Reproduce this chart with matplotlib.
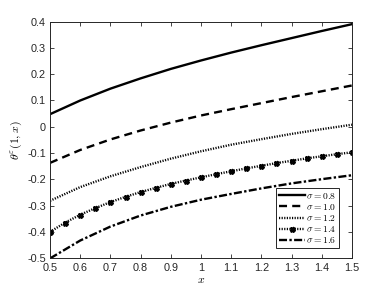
import matplotlib
matplotlib.use("Agg")
import matplotlib.pyplot as plt

plt.rcParams['mathtext.fontset'] = 'cm'
plt.rcParams['font.family'] = ['Liberation Sans', 'DejaVu Sans']

x = [0.5, 0.6, 0.7, 0.8, 0.9, 1.0, 1.1, 1.2, 1.3, 1.4, 1.5]
s08 = [0.048, 0.100, 0.145, 0.184, 0.220, 0.252, 0.282, 0.310, 0.337, 0.364, 0.390]
s10 = [-0.137, -0.088, -0.048, -0.014, 0.016, 0.043, 0.067, 0.090, 0.113, 0.135, 0.157]
s12 = [-0.281, -0.229, -0.188, -0.153, -0.121, -0.093, -0.068, -0.047, -0.027, -0.009, 0.008]
x14 = [0.5, 0.55, 0.6, 0.65, 0.7, 0.75, 0.8, 0.85, 0.9, 0.95, 1.0,
       1.05, 1.1, 1.15, 1.2, 1.25, 1.3, 1.35, 1.4, 1.45, 1.5]
s14 = [-0.399, -0.364, -0.334, -0.309, -0.286, -0.266, -0.248, -0.232, -0.217, -0.204, -0.192,
       -0.180, -0.169, -0.158, -0.148, -0.138, -0.129, -0.120, -0.112, -0.104, -0.097]
s16 = [-0.500, -0.432, -0.379, -0.337, -0.304, -0.277, -0.255, -0.234, -0.215, -0.199, -0.184]

labels = [r'$\sigma = 0.8$', r'$\sigma = 1.0$', r'$\sigma = 1.2$', r'$\sigma = 1.4$', r'$\sigma = 1.6$']
xticks = [0.5, 0.6, 0.7, 0.8, 0.9, 1.0, 1.1, 1.2, 1.3, 1.4, 1.5]
xticklabels = ['0.5', '0.6', '0.7', '0.8', '0.9', '1', '1.1', '1.2', '1.3', '1.4', '1.5']
yticks = [-0.5, -0.4, -0.3, -0.2, -0.1, 0, 0.1, 0.2, 0.3, 0.4]
yticklabels = ['-0.5', '-0.4', '-0.3', '-0.2', '-0.1', '0', '0.1', '0.2', '0.3', '0.4']

fig = plt.figure(figsize=(3.88, 2.91), dpi=100)
ax = fig.add_axes([0.129, 0.112, 0.778, 0.814])

lw = 1.7
ax.plot(x, s08, color='black', lw=lw, ls='-', label=labels[0])
ax.plot(x, s10, color='black', lw=lw, ls=(0, (3.4, 2.2)), label=labels[1])
ax.plot(x, s12, color='black', lw=lw, ls=(0, (0.5, 0.6)), label=labels[2])
ax.plot(x14, s14, color='black', lw=lw, ls=(0, (0.5, 0.6)), marker='X', ms=3.6,
        mec='black', mfc='black', label=labels[3])
ax.plot(x, s16, color='black', lw=lw, ls=(0, (3.4, 1.0, 1.0, 1.0)), label=labels[4])

ax.set_xlim(0.5, 1.5)
ax.set_ylim(-0.5, 0.4)
ax.set_xticks(xticks)
ax.set_xticklabels(xticklabels)
ax.set_yticks(yticks)
ax.set_yticklabels(yticklabels)
ax.tick_params(direction='in', top=True, right=True, length=3, width=0.6,
               labelsize=7.8, colors='#262626', pad=3)
for sp in ax.spines.values():
    sp.set_linewidth(0.7)
    sp.set_color('#262626')

ax.set_xlabel(r'$x$', fontsize=8.5, labelpad=1)
ax.set_ylabel(r'$\theta^{\varepsilon}(1,x)$', fontsize=8.5, labelpad=2)

leg = ax.legend(loc='lower right', fontsize=6.9, handlelength=2.7, handletextpad=0.15,
                labelspacing=0.12, borderpad=0.25, fancybox=False, framealpha=1,
                edgecolor='#262626', bbox_to_anchor=(0.972, 0.025))
leg.get_frame().set_linewidth(0.7)

fig.savefig('out.png', dpi=100)
